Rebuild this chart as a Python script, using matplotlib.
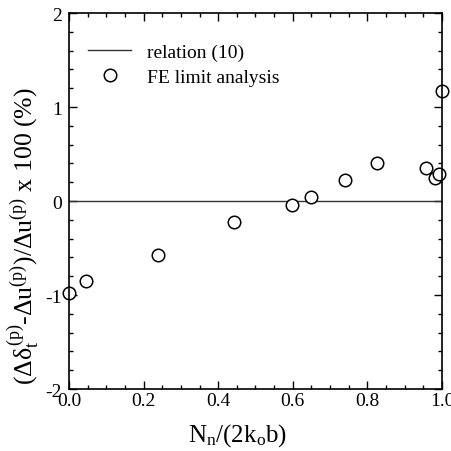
import matplotlib
matplotlib.use("Agg")
import matplotlib.pyplot as plt
from matplotlib.ticker import MultipleLocator, FormatStrFormatter

plt.rcParams['font.family'] = ['Liberation Serif', 'DejaVu Serif']
plt.rcParams['mathtext.fontset'] = 'custom'
plt.rcParams['mathtext.rm'] = 'Liberation Serif'
plt.rcParams['mathtext.it'] = 'Liberation Serif'
plt.rcParams['axes.unicode_minus'] = False

# FE limit analysis results
ratio = [0.0, 0.046, 0.239, 0.442, 0.597, 0.650, 0.739, 0.825, 0.958, 0.982, 0.993, 1.0]
error = [-0.975, -0.848, -0.571, -0.227, -0.043, 0.039, 0.227, 0.401, 0.348, 0.245, 0.291, 1.173]

# relation (10): zero difference
rel_x = [0.0, 1.0]
rel_y = [0.0, 0.0]

fig = plt.figure(figsize=(4.51, 4.52), dpi=100)
ax = fig.add_axes([0.153, 0.137, 0.827, 0.832])

ax.plot(rel_x, rel_y, '-', color='#333333', linewidth=1.0, label='relation (10)')
ax.plot(ratio, error, 'o', markersize=9, markerfacecolor='white',
        markeredgecolor='black', markeredgewidth=1.1, linestyle='none',
        label='FE limit analysis', clip_on=False)

ax.set_xlim(0, 1)
ax.set_ylim(-2, 2)
ax.xaxis.set_major_locator(MultipleLocator(0.2))
ax.xaxis.set_minor_locator(MultipleLocator(0.05))
ax.yaxis.set_major_locator(MultipleLocator(1))
ax.yaxis.set_minor_locator(MultipleLocator(0.2))
ax.xaxis.set_major_formatter(FormatStrFormatter('%.1f'))
ax.tick_params(which='both', direction='in', top=True, right=True, labelsize=14)
ax.tick_params(which='major', length=6, width=1)
ax.tick_params(which='minor', length=3, width=1)
ax.tick_params(axis='x', pad=2)
ax.tick_params(axis='y', pad=5)
for s in ax.spines.values():
    s.set_linewidth(1.2)

ax.set_xlabel(r'N$_\mathrm{n}$/(2k$_\mathrm{o}$b)', fontsize=18)
ax.xaxis.set_label_coords(0.453, -0.085)
ax.set_ylabel(r'($\Delta\delta_\mathrm{t}^{(\mathrm{p})}$-$\Delta$u$^{(\mathrm{p})}$)/$\Delta$u$^{(\mathrm{p})}$ x 100 (%)',
              fontsize=18.5)
ax.yaxis.set_label_coords(-0.075, 0.41)

ax.legend(loc='upper left', frameon=False, fontsize=14, handlelength=2.2,
          borderaxespad=0.6, bbox_to_anchor=(0.0, 0.972), labelspacing=0.4)

fig.savefig('out.png', dpi=100)
